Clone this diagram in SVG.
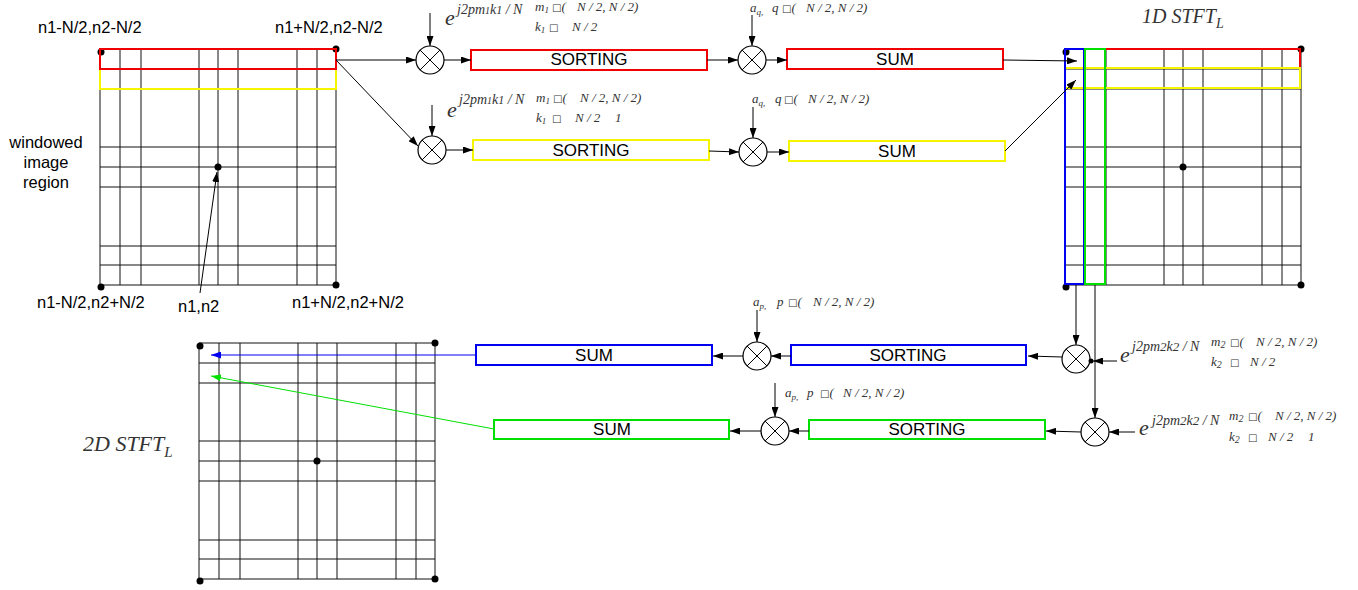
<svg xmlns="http://www.w3.org/2000/svg" xmlns:xlink="http://www.w3.org/1999/xlink" width="1358" height="590" viewBox="0 0 1358 590">
<style>
.sans{font-family:"Liberation Sans",Arial,sans-serif;font-size:16.5px;fill:#000}
.pbt{font-size:17px}
.mid{text-anchor:middle}
.math{font-family:"Liberation Serif","Times New Roman",serif;font-style:italic;fill:#333}
.sm{font-size:13px}
.sup{font-size:14px}
.ex{font-size:22px}
.box{font-family:"DejaVu Sans",sans-serif;font-style:normal;font-size:10px}
.gl{stroke:#111;stroke-width:1;fill:none}
.conn{stroke:#000;stroke-width:1;fill:none}
.pb{fill:#fff;stroke-width:2}
.red{stroke:#f00000;fill:none;stroke-width:2}
.yel{stroke:#f5f500;fill:none;stroke-width:2}
.blu{stroke:#0000f0;fill:none;stroke-width:2}
.grn{stroke:#00e000;fill:none;stroke-width:2}
</style>
<defs>
<marker id="ah" viewBox="0 0 10 7" refX="10" refY="3.5" markerWidth="10" markerHeight="7" markerUnits="userSpaceOnUse" orient="auto"><path d="M0,0 L10,3.5 L0,7 z" fill="#000"/></marker>
<marker id="ahb" viewBox="0 0 10 7" refX="10" refY="3.5" markerWidth="10" markerHeight="7" markerUnits="userSpaceOnUse" orient="auto"><path d="M0,0 L10,3.5 L0,7 z" fill="#0000f0"/></marker>
<marker id="ahg" viewBox="0 0 10 7" refX="10" refY="3.5" markerWidth="10" markerHeight="7" markerUnits="userSpaceOnUse" orient="auto"><path d="M0,0 L10,3.5 L0,7 z" fill="#00e000"/></marker>
<g id="grid">
<path stroke="#111" stroke-width="1" fill="none" d="M0,0 H236 V236 H0 Z M20,0 V236 M41,0 V236 M99,0 V236 M118,0 V236 M138,0 V236 M197,0 V236 M217,0 V236 M0,20 H236 M0,40 H236 M0,98 H236 M0,118 H236 M0,138 H236 M0,197 H236 M0,216 H236"/>
<g fill="#000"><circle cx="1" cy="3" r="3.5"/><circle cx="236" cy="0" r="3.5"/><circle cx="1" cy="238" r="3.5"/><circle cx="236" cy="236" r="3.5"/><circle cx="118" cy="118" r="3.5"/></g>
</g>
<g id="mulsym"><circle r="14" fill="#fff" stroke="#000" stroke-width="1.2"/><path d="M-9.9,-9.9 L9.9,9.9 M-9.9,9.9 L9.9,-9.9" stroke="#000" stroke-width="1" fill="none"/></g>
</defs>
<rect width="1358" height="590" fill="#fff"/>

<g id="grid-input">
<use href="#grid" x="100" y="49"/>
<rect class="yel" x="100" y="69" width="236" height="20"/>
<rect class="red" x="100" y="49" width="236" height="20"/>
<text class="sans" x="38" y="33">n1-N/2,n2-N/2</text>
<text class="sans" x="275" y="33">n1+N/2,n2-N/2</text>
<text class="sans" x="37" y="308">n1-N/2,n2+N/2</text>
<text class="sans" x="178" y="312">n1,n2</text>
<text class="sans" x="292" y="308">n1+N/2,n2+N/2</text>
<text class="sans mid" x="46" y="148">windowed</text>
<text class="sans mid" x="46" y="168">image</text>
<text class="sans mid" x="46" y="188">region</text>
</g>

<g id="grid-1d">
<use href="#grid" x="1065" y="49"/>
<rect class="red" x="1065" y="49" width="235" height="19"/>
<rect class="yel" x="1065" y="68" width="235" height="20"/>
<rect class="blu" x="1065" y="49" width="19" height="235"/>
<rect class="grn" x="1085" y="49" width="20" height="235"/>
<text class="math" x="1142" y="23" font-size="20">1D STFT<tspan font-size="14" dy="5">L</tspan></text>
</g>

<g id="grid-2d">
<use href="#grid" x="199" y="343"/>
<text class="math" x="83" y="451" font-size="22">2D STFT<tspan font-size="15" dy="6">L</tspan></text>
</g>

<g id="sort-red"><rect class="pb red" x="471" y="50" width="236" height="20"/><text class="sans pbt mid" x="589" y="65">SORTING</text></g>
<g id="sum-red"><rect class="pb red" x="787" y="49" width="216" height="20"/><text class="sans pbt mid" x="895" y="65">SUM</text></g>
<g id="sort-yellow"><rect class="pb yel" x="473" y="140" width="236" height="20"/><text class="sans pbt mid" x="591" y="156">SORTING</text></g>
<g id="sum-yellow"><rect class="pb yel" x="789" y="141" width="216" height="20"/><text class="sans pbt mid" x="897" y="157">SUM</text></g>
<g id="sort-blue"><rect class="pb blu" x="791" y="345" width="235" height="20"/><text class="sans pbt mid" x="908" y="361">SORTING</text></g>
<g id="sum-blue"><rect class="pb blu" x="476" y="345" width="236" height="20"/><text class="sans pbt mid" x="594" y="361">SUM</text></g>
<g id="sort-green"><rect class="pb grn" x="809" y="420" width="236" height="19"/><text class="sans pbt mid" x="927" y="435">SORTING</text></g>
<g id="sum-green"><rect class="pb grn" x="494" y="420" width="235" height="19"/><text class="sans pbt mid" x="612" y="435">SUM</text></g>

<g id="mul1"><use href="#mulsym" x="430" y="60"/></g>
<g id="mul2"><use href="#mulsym" x="432" y="150"/></g>
<g id="mul3"><use href="#mulsym" x="752" y="60"/></g>
<g id="mul4"><use href="#mulsym" x="753" y="152"/></g>
<g id="mul5"><use href="#mulsym" x="1076" y="359"/></g>
<g id="mul6"><use href="#mulsym" x="1095" y="432"/></g>
<g id="mul7"><use href="#mulsym" x="757" y="356"/></g>
<g id="mul8"><use href="#mulsym" x="775" y="431"/></g>

<g id="formula1" class="math">
<text class="ex" x="445" y="25">e</text>
<text class="sup" x="457" y="14">j2pm<tspan font-size="10">1</tspan>k<tspan font-size="12">1</tspan> / N</text>
<text class="sm" x="535" y="11">m<tspan font-size="9" dy="2">1</tspan></text><text x="552" y="11" class="sm"><tspan class="box">□</tspan>(</text><text class="sm" x="577" y="11">N / 2, N / 2)</text>
<text class="sm" x="535" y="31">k<tspan font-size="9" dy="2">1</tspan></text><text x="549" y="31" class="box">□</text><text class="sm" x="572" y="31">N / 2</text>
</g>
<g id="formula2" class="math">
<text class="ex" x="447" y="117">e</text>
<text class="sup" x="459" y="104">j2pm<tspan font-size="10">1</tspan>k<tspan font-size="12">1</tspan> / N</text>
<text class="sm" x="536" y="102">m<tspan font-size="9" dy="2">1</tspan></text><text x="553" y="102" class="sm"><tspan class="box">□</tspan>(</text><text class="sm" x="580" y="102">N / 2, N / 2)</text>
<text class="sm" x="536" y="122">k<tspan font-size="9" dy="2">1</tspan></text><text x="552" y="122" class="box">□</text><text class="sm" x="575" y="122">N / 2</text><text class="sm" x="615" y="122">1</text>
</g>
<g id="formula3" class="math">
<text class="sm" x="750" y="12">a<tspan font-size="9" dy="3">q,</tspan></text><text class="sm" x="772" y="12">q</text><text x="782" y="12" class="sm"><tspan class="box">□</tspan>(</text><text class="sm" x="806" y="12">N / 2, N / 2)</text>
</g>
<g id="formula4" class="math">
<text class="sm" x="752" y="103">a<tspan font-size="9" dy="3">q,</tspan></text><text class="sm" x="775" y="103">q</text><text x="784" y="103" class="sm"><tspan class="box">□</tspan>(</text><text class="sm" x="808" y="103">N / 2, N / 2)</text>
</g>
<g id="formula5" class="math">
<text class="sm" x="753" y="306">a<tspan font-size="9" dy="3">p,</tspan></text><text class="sm" x="777" y="306">p</text><text x="788" y="306" class="sm"><tspan class="box">□</tspan>(</text><text class="sm" x="813" y="306">N / 2, N / 2)</text>
</g>
<g id="formula6" class="math">
<text class="sm" x="785" y="397">a<tspan font-size="9" dy="3">p,</tspan></text><text class="sm" x="807" y="397">p</text><text x="820" y="397" class="sm"><tspan class="box">□</tspan>(</text><text class="sm" x="843" y="397">N / 2, N / 2)</text>
</g>
<g id="formula7" class="math">
<text class="ex" x="1120" y="362">e</text>
<text class="sup" x="1132" y="351">j2pm<tspan font-size="13">2</tspan>k<tspan font-size="13">2</tspan> / N</text>
<text class="sm" x="1211" y="346">m<tspan font-size="10" dy="2">2</tspan></text><text x="1230" y="346" class="sm"><tspan class="box">□</tspan>(</text><text class="sm" x="1256" y="346">N / 2, N / 2)</text>
<text class="sm" x="1211" y="366">k<tspan font-size="10" dy="2">2</tspan></text><text x="1230" y="366" class="box">□</text><text class="sm" x="1250" y="366">N / 2</text>
</g>
<g id="formula8" class="math">
<text class="ex" x="1139" y="435">e</text>
<text class="sup" x="1152" y="425">j2pm<tspan font-size="13">2</tspan>k<tspan font-size="13">2</tspan> / N</text>
<text class="sm" x="1229" y="420">m<tspan font-size="10" dy="2">2</tspan></text><text x="1248" y="420" class="sm"><tspan class="box">□</tspan>(</text><text class="sm" x="1275" y="420">N / 2, N / 2)</text>
<text class="sm" x="1229" y="441">k<tspan font-size="10" dy="2">2</tspan></text><text x="1248" y="441" class="box">□</text><text class="sm" x="1268" y="441">N / 2</text><text class="sm" x="1308" y="441">1</text>
</g>

<g id="connectors">
<line class="conn" x1="336" y1="60" x2="416" y2="60" marker-end="url(#ah)"/>
<line class="conn" x1="336" y1="60" x2="418" y2="146" marker-end="url(#ah)"/>
<line class="conn" x1="444" y1="60" x2="471" y2="60" marker-end="url(#ah)"/>
<line class="conn" x1="707" y1="60" x2="738" y2="60" marker-end="url(#ah)"/>
<line class="conn" x1="766" y1="60" x2="787" y2="60" marker-end="url(#ah)"/>
<line class="conn" x1="430" y1="13" x2="430" y2="46" marker-end="url(#ah)"/>
<line class="conn" x1="752" y1="15" x2="752" y2="46" marker-end="url(#ah)"/>
<line class="conn" x1="1003" y1="60" x2="1077" y2="61" marker-end="url(#ah)"/>
<line class="conn" x1="446" y1="150" x2="473" y2="150" marker-end="url(#ah)"/>
<line class="conn" x1="709" y1="151" x2="739" y2="152" marker-end="url(#ah)"/>
<line class="conn" x1="767" y1="152" x2="789" y2="152" marker-end="url(#ah)"/>
<line class="conn" x1="432" y1="105" x2="432" y2="136" marker-end="url(#ah)"/>
<line class="conn" x1="753" y1="107" x2="753" y2="138" marker-end="url(#ah)"/>
<line class="conn" x1="1005" y1="151" x2="1076" y2="80" marker-end="url(#ah)"/>
<line class="conn" x1="1076" y1="285" x2="1076" y2="345" marker-end="url(#ah)"/>
<line class="conn" x1="1095" y1="285" x2="1095" y2="418" marker-end="url(#ah)"/>
<line class="conn" x1="1117" y1="361" x2="1093" y2="361" marker-end="url(#ah)"/>
<circle cx="1091" cy="361" r="2.5" fill="#000"/>
<line class="conn" x1="1062" y1="357" x2="1028" y2="356" marker-end="url(#ah)"/>
<line class="conn" x1="791" y1="356" x2="771" y2="356" marker-end="url(#ah)"/>
<line class="conn" x1="743" y1="356" x2="713" y2="356" marker-end="url(#ah)"/>
<line x1="476" y1="355" x2="211" y2="355" stroke="#0000f0" stroke-width="1" marker-end="url(#ahb)"/>
<line class="conn" x1="757" y1="310" x2="757" y2="342" marker-end="url(#ah)"/>
<line class="conn" x1="1135" y1="432" x2="1109" y2="432" marker-end="url(#ah)"/>
<line class="conn" x1="1081" y1="432" x2="1046" y2="431" marker-end="url(#ah)"/>
<line class="conn" x1="809" y1="431" x2="789" y2="431" marker-end="url(#ah)"/>
<line class="conn" x1="761" y1="431" x2="730" y2="431" marker-end="url(#ah)"/>
<line x1="494" y1="429" x2="211" y2="376" stroke="#00e000" stroke-width="1" marker-end="url(#ahg)"/>
<line class="conn" x1="775" y1="383" x2="775" y2="417" marker-end="url(#ah)"/>
<line class="conn" x1="200" y1="293" x2="217" y2="172" marker-end="url(#ah)"/>
</g>
</svg>
